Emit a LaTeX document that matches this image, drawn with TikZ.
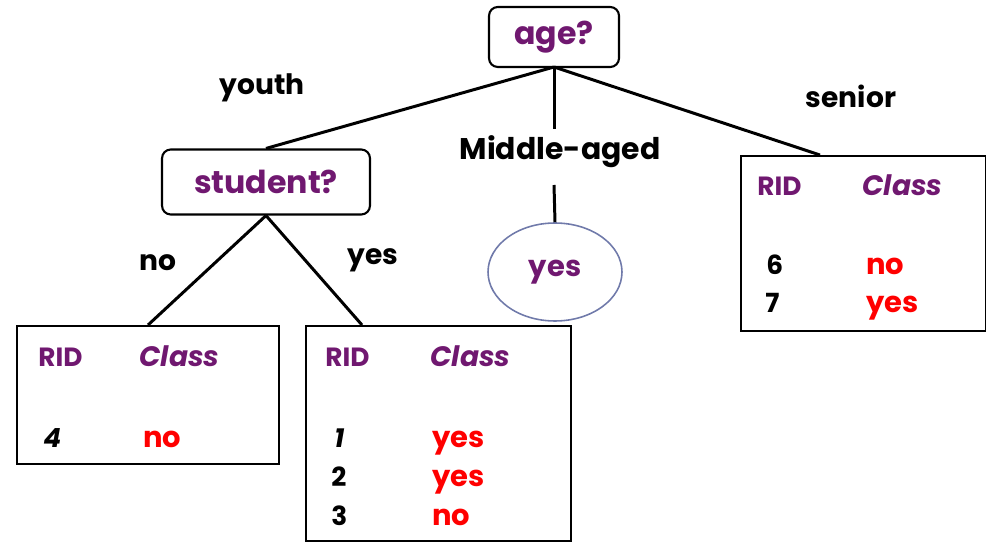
\documentclass[tikz,border=0pt]{standalone}
\usepackage{fontspec}
\setmainfont{Poppins}
\usepackage{xcolor}
\usetikzlibrary{shapes.geometric}
\definecolor{attr}{RGB}{112,24,112}
\definecolor{cls}{RGB}{255,0,0}
\definecolor{leafline}{RGB}{112,122,170}

\begin{document}
\begin{tikzpicture}[x=0.02cm, y=-0.02cm,
    test/.style = {draw, rounded corners=5pt, line width=1.2pt, text=attr, font=\fontsize{18}{21}\selectfont\bfseries},
    table/.style = {draw, line width=1.2pt, anchor=north west},
    lbl/.style = {font=\fontsize{16}{19}\selectfont\bfseries},
    cell/.style = {anchor=base west, inner sep=0pt},
    hd/.style = {cell, text=attr, font=\fontsize{15}{18}\selectfont\bfseries},
    val/.style = {cell, text=cls, font=\fontsize{16.5}{19}\selectfont\bfseries},
    rid/.style = {cell, font=\fontsize{15}{18}\selectfont\bfseries},
    edge/.style = {line width=1.7pt}]
        \useasboundingbox (0,0) rectangle (986,543);
        % internal tests
        \node[test, minimum width=2.6cm, minimum height=1.2cm] (age) at (554,37) {age?};
        \node[test, minimum width=4.16cm, minimum height=1.3cm] (student) at (266,182) {student?};
        \node[draw=leafline, line width=0.9pt, ellipse, minimum width=2.68cm, minimum height=1.96cm, text=attr, font=\fontsize{16.5}{19}\selectfont\bfseries] (mid) at (555,272) {yes};
        % tables
        \node[table, minimum width=5.24cm, minimum height=2.76cm] (ltab) at (16,325) {};
        \node[table, minimum width=5.3cm, minimum height=4.3cm] (rtab) at (305,325) {};
        \node[table, minimum width=4.9cm, minimum height=3.5cm] (stab) at (740,155) {};
        % branch labels
        \node[lbl] (youth) at (262,88) {youth};
        \node[lbl, font=\fontsize{17}{20}\selectfont\bfseries] (midlbl) at (560,152) {Middle-aged};
        \node[lbl] (senior) at (851,96) {senior};
        \node[lbl] (nolbl) at (158,263) {no};
        \node[lbl] (yeslbl) at (373,260) {yes};
        \coordinate (agebot) at (554,67);
        \coordinate (rtop) at (362,325);
        \coordinate (stop) at (820,155);
        \coordinate (midup) at (554,129);
        \coordinate (middown) at (554,185);
        % edges
        \draw[edge] (agebot) -- (student.north);
        \draw[edge] (agebot) -- (midup);
        \draw[edge] (middown) -- (mid.north);
        \draw[edge] (agebot) -- (stop);
        \draw[edge] (student.south) -- (ltab.north);
        \draw[edge] (student.south) -- (rtop);
        % table contents
        \node[hd] (lrid) at (38,367) {RID};
        \node[hd, font=\fontsize{16}{19}\selectfont\bfseries] (lcls) at (139,367) {\itshape Class};
        \node[rid] (l4) at (43,447) {\itshape 4};
        \node[val] (l4c) at (143,447) {no};
        \node[hd] (rrid) at (325,367) {RID};
        \node[hd, font=\fontsize{16}{19}\selectfont\bfseries] (rcls) at (430,367) {\itshape Class};
        \node[rid] (r1) at (334,447) {\itshape 1};
        \node[val] (r1c) at (432,447) {yes};
        \node[rid] (r2) at (331,486) {2};
        \node[val] (r2c) at (432,486) {yes};
        \node[rid] (r3) at (331,525) {3};
        \node[val] (r3c) at (432,525) {no};
        \node[hd] (srid) at (757,196) {RID};
        \node[hd, font=\fontsize{16}{19}\selectfont\bfseries] (scls) at (862,196) {\itshape Class};
        \node[rid] (s6) at (766,275) {6};
        \node[val] (s6c) at (866,275) {no};
        \node[rid] (s7) at (765,313) {7};
        \node[val] (s7c) at (866,313) {yes};
\end{tikzpicture}
\end{document}
